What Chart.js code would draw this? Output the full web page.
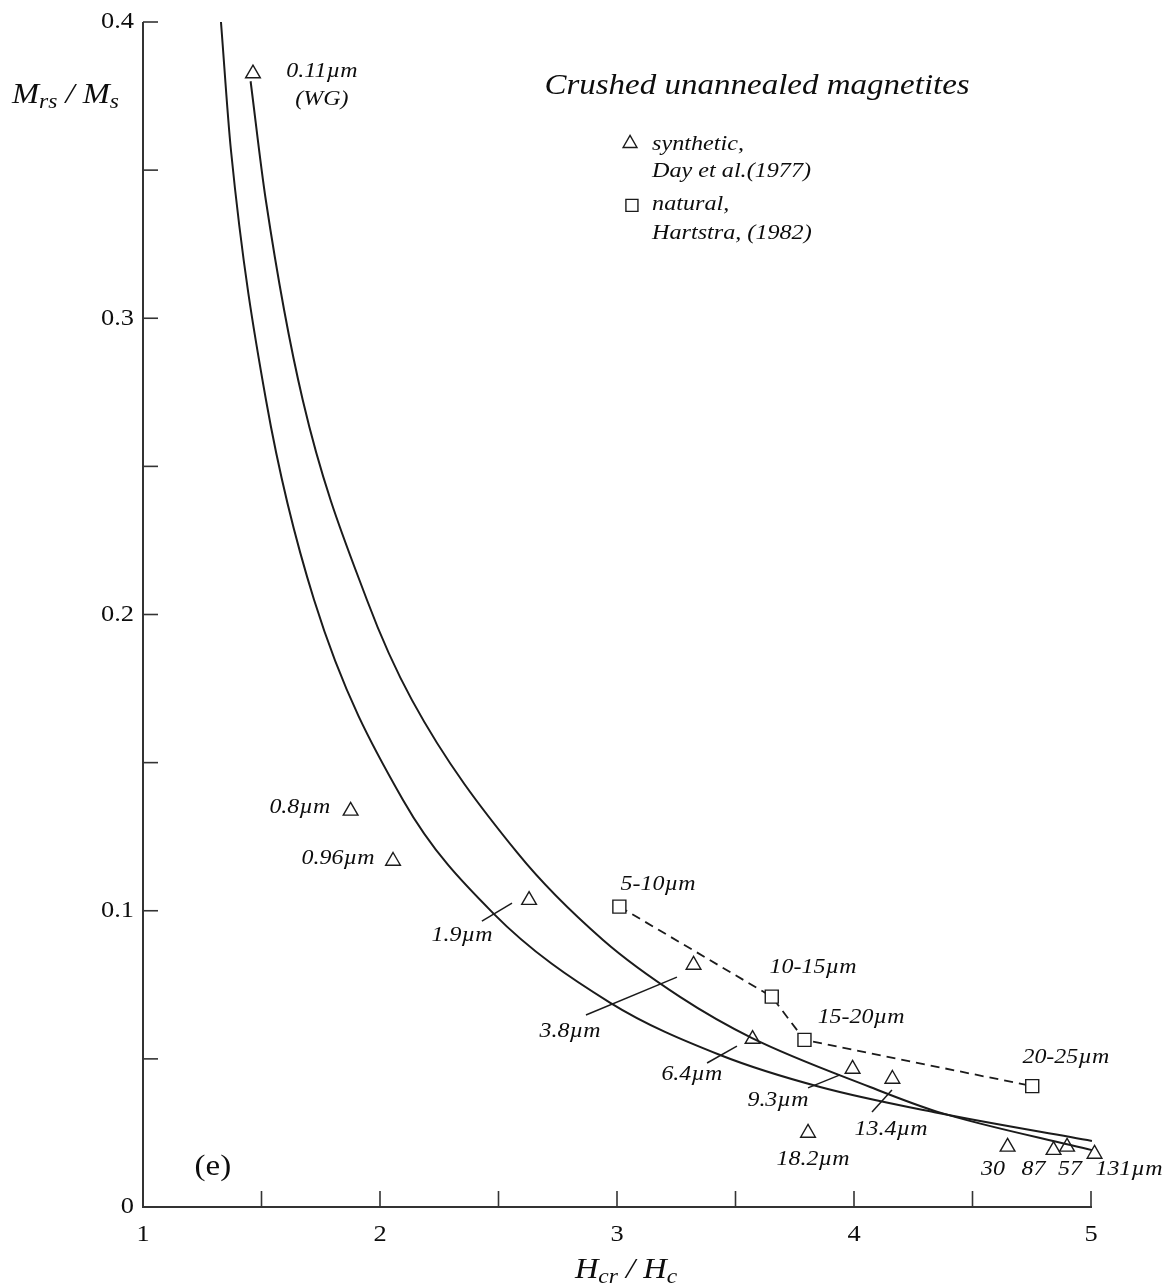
<!DOCTYPE html>
<html>
<head>
<meta charset="utf-8">
<script src="https://cdn.jsdelivr.net/npm/chart.js@4/dist/chart.umd.min.js"></script>
<style>
html,body{margin:0;padding:0;background:#fff;}
#wrap{width:1171px;height:1286px;position:relative;}
</style>
</head>
<body>
<div id="wrap"><canvas id="c" width="1171" height="1286"></canvas></div>
<script>
// ---- axis ticks ----
const xTickValues = [1, 1.5, 2, 2.5, 3, 3.5, 4, 4.5, 5];
const xTickLabels = ['1', '', '2', '', '3', '', '4', '', '5'];
const yTickValues = [0, 0.05, 0.1, 0.15, 0.2, 0.25, 0.3, 0.35, 0.4];
const yTickLabels = ['0', '', '0.1', '', '0.2', '', '0.3', '', '0.4'];

// ---- theoretical curves ----
const curveA = [[1.329,0.400],[1.371,0.3568],[1.519,0.2724],[1.722,0.2049],[2.097,0.1374],[2.477,0.0992],[2.970,0.0690],[3.435,0.0513],[3.857,0.0405],[4.350,0.0318],[5.004,0.0223]];
const curveB = [[1.454,0.380],[1.518,0.340],[1.674,0.2724],[1.945,0.2049],[2.135,0.1711],[2.580,0.1195],[2.941,0.0901],[3.266,0.0709],[3.570,0.0570],[4.068,0.0405],[4.350,0.0322],[5.004,0.0192]];

// ---- synthetic magnetites (Day et al. 1977) ----
const synthNames = ['0.11µm','0.8µm','0.96µm','1.9µm','3.8µm','6.4µm','9.3µm','13.4µm','18.2µm','30','87','57','131µm'];
const synthX = [1.464, 1.876, 2.055, 2.629, 3.323, 3.572, 3.994, 4.162, 3.806, 4.648, 4.842, 4.899, 5.015];
const synthY = [0.3826, 0.1337, 0.1168, 0.1036, 0.0817, 0.0567, 0.0466, 0.0432, 0.0250, 0.0203, 0.0192, 0.0203, 0.0179];

// ---- natural magnetites (Hartstra 1982) ----
const natNames = ['5-10µm','10-15µm','15-20µm','20-25µm'];
const natX = [3.010, 3.653, 3.791, 4.752];
const natY = [0.1014, 0.0710, 0.0564, 0.0408];

// ---- leader lines [x1,y1,x2,y2] ----
const leaders = [
  [2.430,0.0965,2.557,0.1026],
  [2.869,0.0648,3.253,0.0776],
  [3.380,0.0486,3.506,0.0543],
  [3.806,0.0402,3.941,0.0446],
  [4.076,0.0321,4.160,0.0395]
];

// ---- annotation text anchors (data coords) ----
const pointLabels = [
  ['0.11µm',1.755,0.3834],
  ['(WG)',1.755,0.3737],
  ['0.8µm',1.662,0.1347],
  ['0.96µm',1.823,0.1175],
  ['1.9µm',2.346,0.0918],
  ['3.8µm',2.802,0.0594],
  ['6.4µm',3.316,0.0446],
  ['9.3µm',3.679,0.0361],
  ['13.4µm',4.156,0.0263],
  ['18.2µm',3.827,0.0159],
  ['30',4.586,0.0125],
  ['87',4.757,0.0125],
  ['57',4.911,0.0125],
  ['131µm',5.160,0.0125],
  ['5-10µm',3.173,0.1090],
  ['10-15µm',3.827,0.0807],
  ['15-20µm',4.030,0.0641],
  ['20-25µm',4.894,0.0506]
];
const titleText = 'Crushed unannealed magnetites';
const titlePos = [3.591, 0.3784];
const panelText = '(e)';
const panelPos = [1.295, 0.0135];
const legendMarkerX = [3.055, 3.063];
const legendMarkerY = [0.3590, 0.3381];
const legendTexts = [['synthetic,',0.3585],['Day et al.(1977)',0.3494],['natural,',0.3385],['Hartstra, (1982)',0.3287]];
const legendTextX = 3.148;

const INK = '#1b1b1b';
const TXT = '#0d0d0d';
const SERIF = '"Liberation Serif", "Times New Roman", Times, serif';

function txt(ctx, s, x, y, font, align, base, sx) {
  ctx.save();
  ctx.translate(x, y);
  ctx.scale(sx || 1.12, 1);
  ctx.font = font;
  ctx.textAlign = align || 'left';
  ctx.textBaseline = base || 'middle';
  ctx.fillStyle = TXT;
  ctx.fillText(s, 0, 0);
  ctx.restore();
}
function textW(ctx, s, font, sx) { ctx.save(); ctx.font = font; const w = ctx.measureText(s).width * (sx || 1.12); ctx.restore(); return w; }

const decor = {
  id: 'decor',
  beforeDatasetsDraw(chart) {
    const ctx = chart.ctx, xs = chart.scales.x, ys = chart.scales.y;
    const x0 = xs.getPixelForValue(1), x5 = xs.getPixelForValue(5);
    const y0 = ys.getPixelForValue(0), y4 = ys.getPixelForValue(0.4);
    ctx.save();
    ctx.strokeStyle = '#333';
    ctx.lineWidth = 2;
    ctx.beginPath();
    ctx.moveTo(x0, y4); ctx.lineTo(x0, y0); ctx.lineTo(x5 + 1, y0);
    ctx.stroke();
    ctx.lineWidth = 1.6;
    yTickValues.forEach(v => { const p = ys.getPixelForValue(v); ctx.beginPath(); ctx.moveTo(x0, p); ctx.lineTo(x0 + 15, p); ctx.stroke(); });
    xTickValues.forEach(v => { if (v === 1) return; const p = xs.getPixelForValue(v); ctx.beginPath(); ctx.moveTo(p, y0); ctx.lineTo(p, y0 - 16); ctx.stroke(); });
    ctx.restore();
    const tf = '24px ' + SERIF;
    yTickValues.forEach((v, i) => { if (yTickLabels[i]) txt(ctx, yTickLabels[i], x0 - 9, ys.getPixelForValue(v), tf, 'right', 'middle', 1.1); });
    xTickValues.forEach((v, i) => { if (xTickLabels[i]) txt(ctx, xTickLabels[i], xs.getPixelForValue(v), y0 + 28, tf, 'center', 'middle', 1.1); });
  },
  afterDatasetsDraw(chart) {
    const ctx = chart.ctx, xs = chart.scales.x, ys = chart.scales.y;
    const X = v => xs.getPixelForValue(v), Y = v => ys.getPixelForValue(v);
    const lf = 'italic 21px ' + SERIF;
    pointLabels.forEach(l => txt(ctx, l[0], X(l[1]), Y(l[2]), lf, 'center', 'middle', 1.14));
    txt(ctx, titleText, X(titlePos[0]), Y(titlePos[1]), 'italic 30px ' + SERIF, 'center', 'middle', 1.1);
    legendTexts.forEach(l => txt(ctx, l[0], X(legendTextX), Y(l[1]), lf, 'left', 'middle', 1.15));
    txt(ctx, panelText, X(panelPos[0]), Y(panelPos[1]), '30px ' + SERIF, 'center', 'middle', 1.1);
    // axis titles
    const big = 'italic 29px ' + SERIF, sub = 'italic 21px ' + SERIF;
    let x = 12, b = 103;
    const parts = [['M', big, 0], ['rs', sub, 5], [' / ', big, 0], ['M', big, 0], ['s', sub, 5]];
    parts.forEach(p => { txt(ctx, p[0], x, b + p[2], p[1], 'left', 'alphabetic', 1.12); x += textW(ctx, p[0], p[1], 1.12); });
    const xparts = [['H', big, 0], ['cr', sub, 5], [' / ', big, 0], ['H', big, 0], ['c', sub, 5]];
    let tw = 0; xparts.forEach(p => tw += textW(ctx, p[0], p[1], 1.12));
    x = 626 - tw / 2; b = 1278;
    xparts.forEach(p => { txt(ctx, p[0], x, b + p[2], p[1], 'left', 'alphabetic', 1.12); x += textW(ctx, p[0], p[1], 1.12); });
  }
};

const toPts = (xa, ya) => xa.map((v, i) => ({x: v, y: ya[i]}));
const datasets = [
  {data: curveA.map(p => ({x: p[0], y: p[1]})), showLine: true, borderColor: INK, borderWidth: 2, pointRadius: 0, cubicInterpolationMode: 'monotone'},
  {data: curveB.map(p => ({x: p[0], y: p[1]})), showLine: true, borderColor: INK, borderWidth: 2, pointRadius: 0, cubicInterpolationMode: 'monotone'}
];
leaders.forEach(l => datasets.push({data: [{x: l[0], y: l[1]}, {x: l[2], y: l[3]}], showLine: true, borderColor: INK, borderWidth: 1.5, pointRadius: 0}));
datasets.push({data: toPts(natX, natY), showLine: true, borderColor: INK, borderWidth: 1.8, borderDash: [9, 6],
  pointStyle: 'rect', pointRadius: 9.2, pointBackgroundColor: '#fff', pointBorderColor: INK, pointBorderWidth: 1.4});
datasets.push({data: toPts(synthX, synthY), showLine: false, pointStyle: 'triangle', pointRadius: 8.5,
  pointBackgroundColor: 'rgba(255,255,255,0)', pointBorderColor: INK, pointBorderWidth: 1.4});
datasets.push({data: [{x: legendMarkerX[0], y: legendMarkerY[0]}], showLine: false, pointStyle: 'triangle', pointRadius: 8,
  pointBackgroundColor: 'rgba(255,255,255,0)', pointBorderColor: INK, pointBorderWidth: 1.4});
datasets.push({data: [{x: legendMarkerX[1], y: legendMarkerY[1]}], showLine: false, pointStyle: 'rect', pointRadius: 8.5,
  pointBackgroundColor: '#fff', pointBorderColor: INK, pointBorderWidth: 1.4});
datasets.forEach(d => { d.clip = false; });

function build() {
  new Chart(document.getElementById('c'), {
    type: 'scatter',
    data: {datasets},
    options: {
      responsive: false,
      animation: false,
      events: [],
      layout: {padding: {left: 143, right: 80, top: 22, bottom: 79}},
      plugins: {legend: {display: false}, tooltip: {enabled: false}},
      scales: {
        x: {type: 'linear', min: 1, max: 5, display: false},
        y: {type: 'linear', min: 0, max: 0.4, display: false}
      }
    },
    plugins: [decor]
  });
}
Promise.all([
  document.fonts.load('20px "Liberation Serif"'),
  document.fonts.load('italic 20px "Liberation Serif"')
]).then(build, build);
</script>
</body>
</html>
